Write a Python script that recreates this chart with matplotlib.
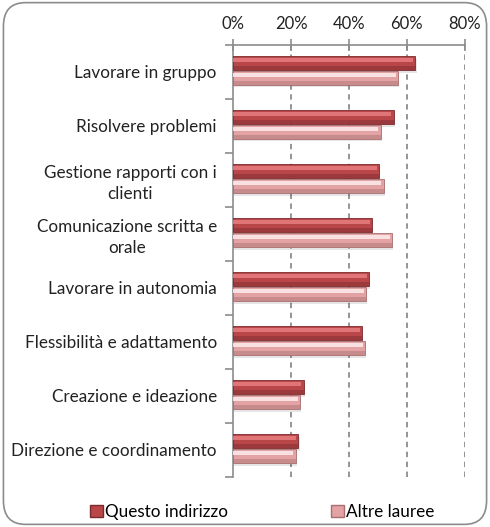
import numpy as np
import matplotlib.pyplot as plt
from matplotlib.patches import FancyBboxPatch, Patch

plt.rcParams['font.family'] = ['Lato', 'DejaVu Sans']

categorie = [
    "Lavorare in gruppo",
    "Risolvere problemi",
    "Gestione rapporti con i\nclienti",
    "Comunicazione scritta e\norale",
    "Lavorare in autonomia",
    "Flessibilità e adattamento",
    "Creazione e ideazione",
    "Direzione e coordinamento",
]
questo_indirizzo = [63, 55.5, 50.5, 48, 47, 44.5, 24.3, 22.5]
altre_lauree = [57, 51, 52, 55, 46, 45.5, 23, 21.5]

serie = [
    # nome, valori, offset, base, riflesso, bordo scuro
    ("Questo indirizzo", questo_indirizzo, -0.16, "#b9474a", "#e57a7b", "#7a2a2c"),
    ("Altre lauree", altre_lauree, 0.11, "#e3a3a4", "#fde8e8", "#a86e70"),
]

fig = plt.figure(figsize=(4.9, 5.27), dpi=100)
ax = fig.add_axes([0.4765, 0.095, 0.4715, 0.82])

y = np.arange(len(categorie))
h = 0.26

for nome, valori, off, base, luce, scuro in serie:
    # ombra sotto la barra
    ax.barh(y + off + 0.05, np.array(valori) + 0.4, height=h, color="#000000",
            alpha=0.10, zorder=2, linewidth=0)
    ax.barh(y + off, valori, height=h, color=base, edgecolor=scuro,
            linewidth=0.6, zorder=3)
    # effetto rilievo: fascia chiara in alto e fascia scura in basso
    ax.barh(y + off - h * 0.22, np.array(valori) - 0.8, height=h * 0.28,
            color=luce, linewidth=0, zorder=4, alpha=0.9)
    ax.barh(y + off + h * 0.36, valori, height=h * 0.28, color=scuro,
            linewidth=0, zorder=4, alpha=0.45)

ax.set_xlim(0, 80)
ax.set_ylim(len(categorie) - 0.5, -0.5)

ax.xaxis.tick_top()
ax.set_xticks([0, 20, 40, 60, 80])
ax.set_xticklabels(["0%", "20%", "40%", "60%", "80%"], fontsize=12, color="#222222")
ax.tick_params(axis="x", direction="inout", length=8, color="#8c8c8c", width=1.2, pad=5)

ax.set_yticks(y)
ax.set_yticklabels(categorie, fontsize=12.3, color="#222222", multialignment="center",
                   linespacing=1.35)
ax.tick_params(axis="y", which="major", length=0, pad=12)
ax.set_yticks(np.arange(len(categorie) + 1) - 0.5, minor=True)
ax.tick_params(axis="y", which="minor", length=6, color="#8c8c8c", width=1.2)

for s in ["right", "bottom"]:
    ax.spines[s].set_visible(False)
for s in ["top", "left"]:
    ax.spines[s].set_color("#8c8c8c")
    ax.spines[s].set_linewidth(1.2)

for v in [20, 40, 60, 80]:
    ax.axvline(v, color="#8c8c8c", linestyle=(0, (3, 2.5)), linewidth=1.3, zorder=1)

handles = [Patch(facecolor=s[3], edgecolor=s[5], label=s[0]) for s in serie]
fig.legend(handles=handles, loc="lower center", ncol=2, frameon=False,
           bbox_to_anchor=(0.535, -0.016), fontsize=12.3, handlelength=0.75,
           handleheight=0.75, handletextpad=0.15, columnspacing=6.0)

# cornice arrotondata del grafico
cornice = FancyBboxPatch((0.007, 0.005), 0.986, 0.99, boxstyle="round,pad=0,rounding_size=0.045",
                         transform=fig.transFigure, facecolor="none",
                         edgecolor="#8c8c8c", linewidth=1.2)
fig.patches.append(cornice)

fig.savefig("out.png", dpi=100)
